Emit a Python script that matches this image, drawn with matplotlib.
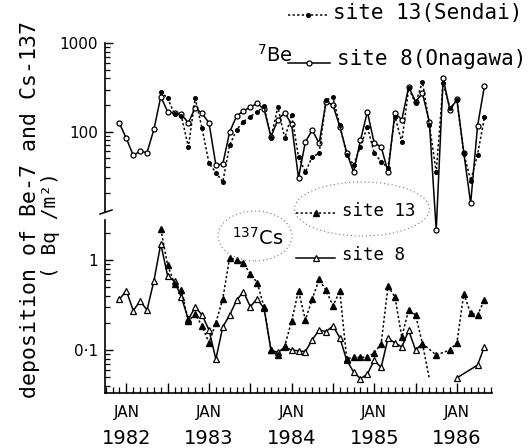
import numpy as np
import matplotlib
matplotlib.use("Agg")
from matplotlib import pyplot as plt
from matplotlib import transforms
from matplotlib.lines import Line2D
from matplotlib.patches import Ellipse

W, H = 529, 448

# month index: 0 = JAN 1982
be_months_8 = np.arange(-1, 53)
be_site8 = [124, 84, 54, 60, 58, 106, 249, 168, 161, 157, 126, 187, 161, 126,
            42, 43, 99, 150, 172, 190, 209, 180, 88, 136, 164, 121, 30, 77,
            104, 74, 218, 200, 114, 58, 35, 80, 168, 74, 68, 35, 164, 136,
            323, 218, 271, 130, 7.7, 402, 176, 232, 58, 15.5, 116, 328]
be_months_13 = np.arange(5, 53)
be_site13 = [283, 239, 158, 150, 67, 239, 109, 44, 34.5, 27, 70, 105, 130,
             148, 168, 193, 85, 191, 84, 155, 52, 35, 52, 57, 228, 245, 118,
             55, 42, 68, 114, 57, 46, 39, 148, 77, 309, 209, 368, 120, 35,
             353, 184, 228, 57, 28, 55, 145]

cs_months_8a = np.arange(-1, 44)
cs_site8a = [0.366, 0.456, 0.274, 0.35, 0.278, 0.585, 1.51, 0.664, 0.58,
             0.385, 0.219, 0.30, 0.245, 0.167, 0.079, 0.18, 0.245, 0.355,
             0.445, 0.303, 0.37, 0.29, 0.10, 0.094, 0.107, 0.10, 0.098,
             0.096, 0.13, 0.167, 0.16, 0.185, 0.137, 0.077, 0.057, 0.048,
             0.054, 0.077, 0.064, 0.135, 0.12, 0.108, 0.165, 0.10, 0.118]
cs_months_8b = [48, 51, 52]
cs_site8b = [0.049, 0.068, 0.109]
cs8_drop_month, cs8_drop = 44, 0.048   # below detection

cs_months_13 = list(range(5, 44)) + [45, 47, 48, 49, 50, 51, 52]
cs_site13 = [2.2, 0.88, 0.54, 0.46, 0.21, 0.25, 0.185, 0.12, 0.2, 0.37, 1.06,
             1.0, 0.92, 0.70, 0.56, 0.30, 0.10, 0.088, 0.11, 0.21, 0.456,
             0.215, 0.37, 0.61, 0.46, 0.31, 0.45, 0.08, 0.083, 0.083, 0.083,
             0.093, 0.117, 0.51, 0.39, 0.14, 0.28, 0.245, 0.118,
             0.088, 0.10, 0.12, 0.42, 0.256, 0.245, 0.36]

jan_months = [0, 12, 24, 36, 48]
years = ["1982", "1983", "1984", "1985", "1986"]

mono = "DejaVu Sans Mono"
plt.rcParams["font.family"] = "DejaVu Sans"


def fx(x):
    return x / W


def fy(y):
    return 1 - y / H


fig = plt.figure(figsize=(W / 100, H / 100), dpi=100)
ax_be = fig.add_axes([fx(105), fy(212), (492 - 105) / W, (212 - 43.3) / H])
ax_cs = fig.add_axes([fx(105), fy(393), (492 - 105) / W, (393 - 220) / H])
# transparent backgrounds so the deep Be-7 dip can run past the break
for ax in (ax_be, ax_cs):
    ax.patch.set_visible(False)
ax_be.set_zorder(3)

s8 = dict(color="black", lw=1.1, ls="-", mfc="white", mec="black", mew=0.9,
          clip_on=False)
s13 = dict(color="black", lw=1.1, ls=(0, (1.5, 1.5)), mfc="black",
           mec="black", clip_on=False)

ax_be.plot(be_months_8, be_site8, marker="o", ms=3.6, **s8)
ax_be.plot(be_months_13, be_site13, marker="o", ms=2.6, **s13)

ax_cs.plot(cs_months_8a, cs_site8a, marker="^", ms=5, **s8)
ax_cs.plot([cs_months_8a[-1], cs8_drop_month], [cs_site8a[-1], cs8_drop],
           color="black", lw=1.1, ls=(0, (1.5, 1.5)))
ax_cs.plot(cs_months_8b, cs_site8b, marker="^", ms=5, **s8)
ax_cs.plot(cs_months_13, cs_site13, marker="^", ms=5, **s13)

for ax in (ax_be, ax_cs):
    ax.set_yscale("log")
    ax.set_xlim(-3.1, 53.1)
    for side in ("top", "right"):
        ax.spines[side].set_visible(False)
    ax.spines["left"].set_linewidth(1.2)
    ax.tick_params(axis="y", which="major", direction="in", length=6,
                   width=1, labelsize=11, pad=5)
    ax.tick_params(axis="y", which="minor", direction="in", length=3.5,
                   width=0.9)

ax_be.set_ylim(12.35, 1000)
ax_be.set_yticks([100, 1000], labels=["100", "1000"])
ax_be.spines["bottom"].set_visible(False)
ax_be.set_xticks([])

ax_cs.set_ylim(0.0333, 2.78)
ax_cs.set_yticks([0.1, 1], labels=["0\u00b71", "1"])
ax_cs.spines["bottom"].set_linewidth(1.2)
ax_cs.set_xticks(np.arange(0, 49, 6), labels=[""] * 9)
ax_cs.set_xticks(np.arange(-3, 54), minor=True)
ax_cs.tick_params(axis="x", which="major", direction="in", length=7, width=1)
ax_cs.tick_params(axis="x", which="minor", direction="in", length=4, width=0.9)

# axis break mark
fig.add_artist(Line2D([fx(100), fx(112)], [fy(214), fy(210)], color="black",
                      lw=1.1))

# date labels under the axis
xt = transforms.blended_transform_factory(ax_cs.transData, fig.transFigure)
for m, yr in zip(jan_months, years):
    fig.text(m, fy(412), "JAN", transform=xt, ha="center", va="center",
             fontsize=11)
    fig.text(m, fy(438), yr, transform=xt, ha="center", va="center",
             fontsize=14)

# y axis title
fig.text(fx(30), fy(210), "deposition of Be-7 and Cs-137", rotation=90,
         ha="center", va="center", fontsize=15.5, family=mono)
fig.text(fx(50), fy(225), "( Bq /m\u00b2)", rotation=90, ha="center",
         va="center", fontsize=14, family=mono)


def key(x0, x1, y, marker, ms, style):
    fig.add_artist(Line2D([fx(x0), fx((x0 + x1) / 2), fx(x1)],
                          [fy(y)] * 3, marker=marker, ms=ms, markevery=[1],
                          transform=fig.transFigure, **style))


key(288, 328, 15, "o", 2.6, s13)
fig.text(fx(333), fy(13), "site 13(Sendai)", ha="left", va="center",
         fontsize=15, family=mono)
fig.text(fx(257), fy(55), "$^{7}$Be", ha="left", va="center", fontsize=14)
key(288, 330, 63, "o", 3.6, s8)
fig.text(fx(337), fy(59), "site 8(Onagawa)", ha="left", va="center",
         fontsize=15, family=mono)

key(296, 336, 213, "^", 5, s13)
fig.text(fx(342), fy(211), "site 13", ha="left", va="center", fontsize=12.5,
         family=mono)
key(296, 335, 258, "^", 5, s8)
fig.text(fx(342), fy(255), "site 8", ha="left", va="center", fontsize=12.5,
         family=mono)
fig.text(fx(232), fy(238), "$^{137}$Cs", ha="left", va="center", fontsize=14)

ring = dict(fill=False, ec="#777777", lw=0.8, ls=(0, (1, 2.5)),
            transform=fig.transFigure)
fig.add_artist(Ellipse((fx(362), fy(209)), 135 / W, 54 / H, **ring))
fig.add_artist(Ellipse((fx(255), fy(236)), 74 / W, 50 / H, **ring))

fig.savefig("out.png", dpi=100)
